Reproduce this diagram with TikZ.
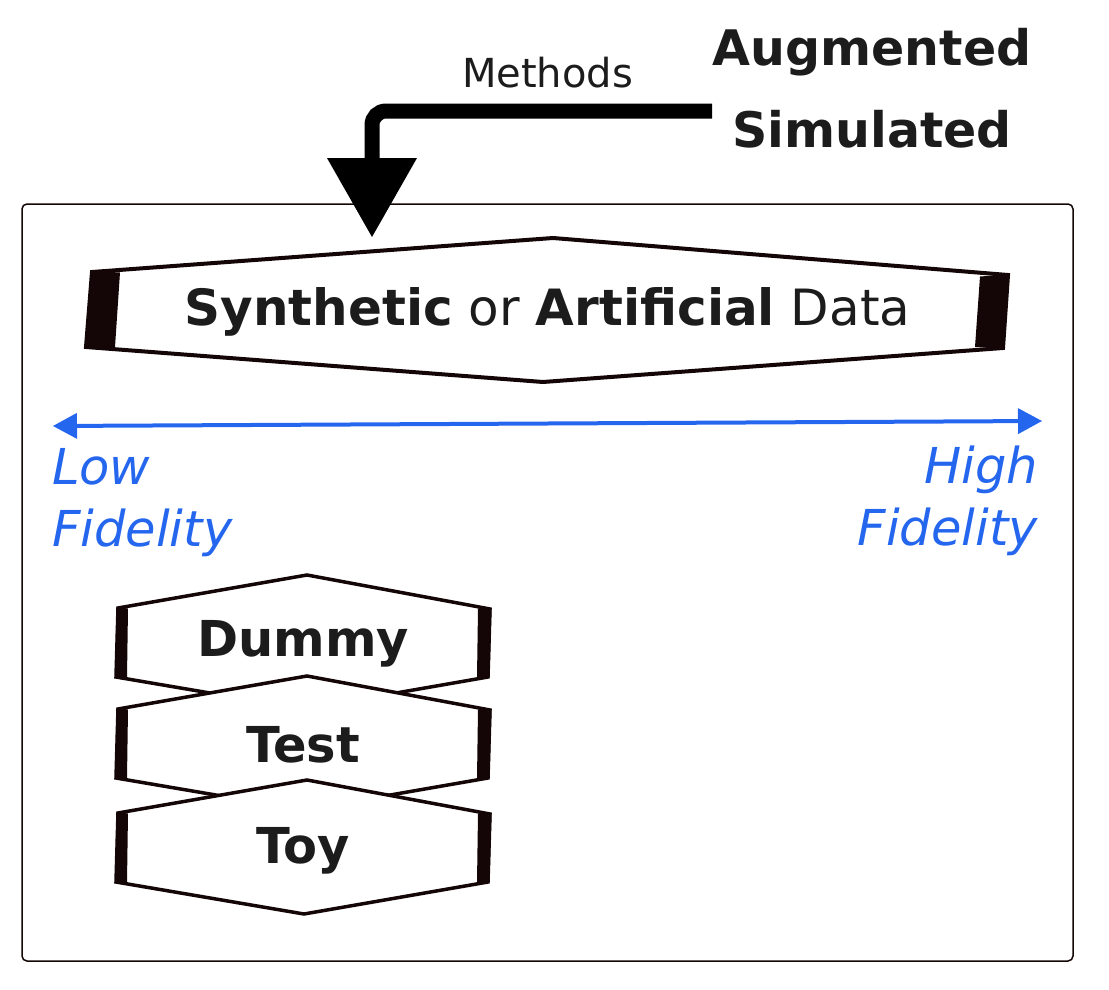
\documentclass[tikz,border=0pt]{standalone}
\usepackage{fontspec}
\setmainfont{DejaVu Sans}[ItalicFont={DejaVu Sans Oblique},BoldFont={DejaVu Sans Bold},BoldItalicFont={DejaVu Sans Bold Oblique}]
\usetikzlibrary{arrows.meta}
\definecolor{ink}{HTML}{140606}
\definecolor{txt}{HTML}{1C1C1C}
\definecolor{fid}{HTML}{2566EE}
\begin{document}
\begin{tikzpicture}[x=1pt,y=-1pt,
  lbl/.style={inner sep=0pt, outer sep=0pt, text=txt},
  bigfont/.style={font=\fontsize{50}{60}\selectfont},
  fidfont/.style={font=\fontsize{49.5}{62}\selectfont\itshape, text=fid, inner sep=0pt, outer sep=0pt},
  hexline/.style={draw=ink, line width=4pt, fill=white, line join=miter},
  smallhex/.style={draw=ink, line width=3.5pt, fill=white, line join=miter},
  hexbar/.style={fill=ink},
  frame/.style={draw=ink, line width=1.5pt, rounded corners=5pt},
  fidarrow/.style={draw=fid, line width=4pt, {Triangle[length=24pt,width=26pt,line width=0pt]}-{Triangle[length=24pt,width=26pt,line width=0pt]}},
  bigarrow/.style={draw=black, line width=15pt, rounded corners=14pt, -{Triangle[length=79pt,width=90pt,line width=0pt]}}
]
\useasboundingbox (0,0) rectangle (1109,990);

% frame
\draw[frame] (22,204) rectangle (1073,961);

% top labels
\node[lbl, font=\fontsize{49}{82}\selectfont\bfseries, align=center, anchor=north] (aug) at (872,28) {Augmented\\Simulated};
\node[lbl, font=\fontsize{40}{48}\selectfont, anchor=base] (meth) at (547.5,88) {Methods};

% big arrow
\coordinate (mstart) at (712,111);
\coordinate (mtip) at (372,237);
\draw[bigarrow] (mstart) -| (mtip);

% main hexagon
\draw[hexline] (553,238) -- (1008,275) -- (1003,348) -- (543,382) -- (86,347) -- (92,272) -- cycle;
\fill[hexbar] (91,271) -- (120,272.5) -- (115,347) -- (85,348.5) -- cycle;
\fill[hexbar] (980,276.5) -- (1009,274.5) -- (1004,348.5) -- (975,347) -- cycle;
\node[lbl, bigfont, anchor=base] (synth) at (547.5,325) {\textbf{Synthetic} or \textbf{Artificial} Data};

% fidelity axis
\coordinate (lowend) at (53,426);
\coordinate (highend) at (1042,421);
\draw[fidarrow] (lowend) -- (highend);
\node[fidfont, align=left, anchor=north west] (low) at (52,448.5) {Low\\Fidelity};
\node[fidfont, align=right, anchor=north east] (high) at (1038,445.5) {High\\Fidelity};

% small hexagons
\foreach \dy/\nm/\txt/\bl in {0/dummy/Dummy/656, 101/test/Test/762, 205/toy/Toy/863}{
  \begin{scope}[shift={(0,\dy)}]
    \draw[smallhex] (307,575) -- (490,609) -- (488,677) -- (304,709) -- (116,677) -- (118,608) -- cycle;
    \fill[hexbar] (116.5,607) -- (128,608.5) -- (127,677.5) -- (115,677.5) -- cycle;
    \fill[hexbar] (478,608.5) -- (491.5,608) -- (489.5,677.5) -- (477,677.5) -- cycle;
  \end{scope}
  \node[lbl, font=\fontsize{49.5}{60}\selectfont\bfseries, anchor=base] (\nm) at (303,\bl) {\txt};
}
\end{tikzpicture}
\end{document}
